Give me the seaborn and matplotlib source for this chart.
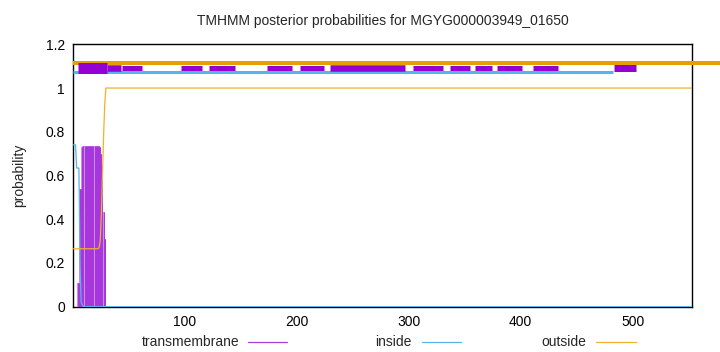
import numpy as np
import pandas as pd
import matplotlib
matplotlib.use("Agg")
import matplotlib.pyplot as plt
from matplotlib.lines import Line2D
import seaborn as sns

# ---------------- data ----------------
title = "TMHMM posterior probabilities for MGYG000003949_01650"
seq_len = 553

# transmembrane posterior (impulses), residues 5..29
tm_pos = list(range(5, 30))
tm_val = [0.107, 0.107, 0.54, 0.54, 0.73,
          0.735, 0.735, 0.735, 0.735, 0.735, 0.735, 0.735, 0.735,
          0.735, 0.735, 0.735, 0.735, 0.735, 0.735, 0.735,
          0.73, 0.70, 0.645, 0.435, 0.31]

# inside / outside posterior; values change only in the first 30 residues
io_pos = list(range(1, 31)) + [553]
inside_val = [0.74, 0.74, 0.74, 0.634, 0.634, 0.634, 0.2, 0.02, 0.01, 0.0,
              0.0, 0.0, 0.0, 0.0, 0.0, 0.0, 0.0, 0.0, 0.0, 0.0,
              0.0, 0.0, 0.0, 0.0, 0.0, 0.0, 0.0, 0.0, 0.0, 0.0, 0.0]
outside_val = [0.265, 0.265, 0.265, 0.265, 0.265, 0.265, 0.265, 0.265, 0.265, 0.265,
               0.265, 0.265, 0.265, 0.265, 0.265, 0.265, 0.265, 0.265, 0.265, 0.265,
               0.265, 0.265, 0.265, 0.27, 0.30, 0.42, 0.60, 0.78, 0.92, 1.0, 1.0]

# top track segments
tm_seg_start = [5, 31, 44.5, 97, 122, 174, 203, 230, 304, 337, 359, 379, 411, 483]
tm_seg_end = [31, 43.5, 62, 116, 145, 196, 225, 297, 331, 355, 374, 401, 433, 503]
tm_seg_w = [11, 6.5, 5, 5, 5, 5, 5, 6.5, 5, 5, 5, 5, 5, 7]
inside_track = (1, 482)
outside_track = (1, 578)

xticks = [100, 200, 300, 400, 500]
yticks = [0, 0.2, 0.4, 0.6, 0.8, 1.0, 1.2]
yticklabels = ["0", "0.2", "0.4", "0.6", "0.8", "1", "1.2"]
legend_names = ["transmembrane", "inside", "outside"]

# ---------------- style ----------------
sns.set_style("white")
plt.rcParams["font.family"] = ["Liberation Sans", "DejaVu Sans"]
C_TM = "#9400D3"
C_IN = "#56B4E9"
C_OUT = "#E69F00"

W, H = 720, 352
fig = plt.figure(figsize=(W / 100, H / 100), dpi=100)
L, R, T, B = 73.3, 692.3, 44.3, 306.7
ax = fig.add_axes([L / W, 1 - B / H, (R - L) / W, (B - T) / H])

px = 72 / 100  # points per pixel

# impulses: light purple underlay with darker strokes on top
ax.vlines(tm_pos, 0, tm_val, color="#c070ea", lw=1.6 * px, zorder=3)
ax.vlines(tm_pos, 0, tm_val, color="#a530dc", lw=0.9 * px, zorder=3)

df_io = pd.DataFrame({"pos": io_pos, "inside": inside_val, "outside": outside_val})
sns.lineplot(data=df_io, x="pos", y="inside", ax=ax, color=C_IN, lw=0.9, zorder=4)
sns.lineplot(data=df_io, x="pos", y="outside", ax=ax, color="#F0B030", lw=0.9, zorder=4)

# top tracks
ax.plot(outside_track, [1.113, 1.113], color=C_OUT, lw=4 * px, clip_on=False,
        solid_capstyle="butt", zorder=5)
ax.plot(inside_track, [1.074, 1.074], color=C_IN, lw=3 * px,
        solid_capstyle="butt", zorder=5)
for s, e, w in zip(tm_seg_start, tm_seg_end, tm_seg_w):
    ax.plot([s, e], [1.091, 1.091], color=C_TM, lw=w * px,
            solid_capstyle="butt", zorder=6)

ax.set_xlim(1, seq_len)
ax.set_ylim(0, 1.2)
ax.set_xticks(xticks)
ax.set_yticks(yticks)
ax.set_yticklabels(yticklabels)
ax.tick_params(direction="in", length=4, labelsize=10, colors="black", width=0.8)
ax.tick_params(axis="x", pad=6)
ax.tick_params(axis="y", pad=6)
for sp in ax.spines.values():
    sp.set_color("black")
    sp.set_linewidth(1.0)
ax.set_xlabel("")
ax.set_ylabel("probability", fontsize=10, labelpad=14)
ax.set_title(title, fontsize=10, pad=14)

# legend along the bottom
ly = 1 - 342 / H
fs = 10
fig.text(239 / W, ly, legend_names[0], ha="right", va="center", fontsize=fs)
fig.add_artist(Line2D([248 / W, 287 / W], [ly, ly], color="#a040d8", lw=0.9))
fig.text(412 / W, ly, legend_names[1], ha="right", va="center", fontsize=fs)
fig.add_artist(Line2D([422 / W, 461 / W], [ly, ly], color=C_IN, lw=0.9))
fig.text(586 / W, ly, legend_names[2], ha="right", va="center", fontsize=fs)
fig.add_artist(Line2D([596 / W, 636 / W], [ly, ly], color="#F0B030", lw=0.9))

fig.savefig("out.png", dpi=100)
